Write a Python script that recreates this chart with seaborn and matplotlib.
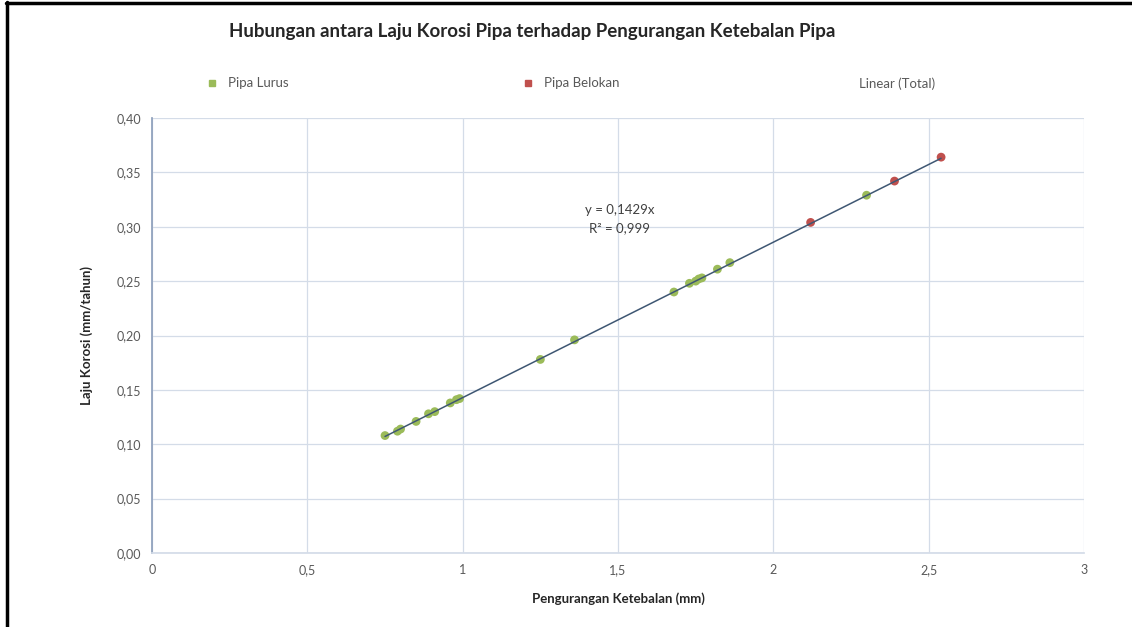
import numpy as np
import pandas as pd
import matplotlib
matplotlib.use('Agg')
import matplotlib.pyplot as plt
import seaborn as sns
from matplotlib.lines import Line2D
from matplotlib.ticker import FuncFormatter, MultipleLocator

# ── Data ──────────────────────────────────────────────────────────────────────
lurus_x = [0.75, 0.79, 0.80, 0.85, 0.89, 0.91, 0.96, 0.98, 0.99,
           1.25, 1.36, 1.68, 1.73, 1.75, 1.76, 1.77, 1.82, 1.86, 2.30]
lurus_y = [0.108, 0.112, 0.114, 0.121, 0.128, 0.130, 0.138, 0.141, 0.142,
           0.178, 0.196, 0.240, 0.248, 0.250, 0.252, 0.253, 0.261, 0.267, 0.329]
belokan_x = [2.12, 2.39, 2.54]
belokan_y = [0.304, 0.342, 0.364]
SLOPE = 0.1429
R2 = 0.999

GREEN = '#9BBB59'
RED = '#C0504D'
TREND = '#3F5773'
GRID = '#D4DCE8'

df = pd.DataFrame({
    'x': lurus_x + belokan_x,
    'y': lurus_y + belokan_y,
    'jenis': ['Pipa Lurus'] * len(lurus_x) + ['Pipa Belokan'] * len(belokan_x),
})

sns.set_theme(style='white')
plt.rcParams['font.family'] = ['Lato', 'DejaVu Sans']

fig = plt.figure(figsize=(11.32, 6.27), dpi=100)
ax = fig.add_axes([0.1343, 0.118, 0.8233, 0.6938])

# trendline through origin over the data range
xs = np.array([df['x'].min(), df['x'].max()])
ax.plot(xs, SLOPE * xs, color=TREND, lw=1.1, zorder=3)

sns.scatterplot(data=df, x='x', y='y', hue='jenis',
                palette={'Pipa Lurus': GREEN, 'Pipa Belokan': RED},
                s=40, edgecolor='none', legend=False, ax=ax, zorder=2)

ax.set_xlim(0, 3)
ax.set_ylim(0, 0.40)
ax.xaxis.set_major_locator(MultipleLocator(0.5))
ax.yaxis.set_major_locator(MultipleLocator(0.05))
ax.xaxis.set_major_formatter(FuncFormatter(lambda v, p: f'{v:g}'.replace('.', ',')))
ax.yaxis.set_major_formatter(FuncFormatter(lambda v, p: f'{v:.2f}'.replace('.', ',')))
ax.grid(True, color=GRID, lw=0.9)
ax.tick_params(axis='both', labelsize=9, colors='#595959', length=0, pad=8)

for side in ['top', 'right']:
    ax.spines[side].set_visible(False)
ax.spines['left'].set_color('#8EA0BC')
ax.spines['bottom'].set_color(GRID)

ax.set_xlabel('Pengurangan Ketebalan (mm)', fontsize=9.5, fontweight='bold',
              color='#262626', labelpad=12)
ax.set_ylabel('Laju Korosi (mm/tahun)', fontsize=9.5, fontweight='bold',
              color='#262626', labelpad=17)

ax.text(1.505, 0.315, f'y = {SLOPE:.4f}x'.replace('.', ','), ha='center',
        va='center', fontsize=9.5, color='#404040')
ax.text(1.505, 0.299, f'R² = {R2:.3f}'.replace('.', ','), ha='center',
        va='center', fontsize=9.5, color='#404040')

fig.text(0.470, 0.950, 'Hubungan antara Laju Korosi Pipa terhadap Pengurangan Ketebalan Pipa',
         ha='center', va='center', fontsize=13.5, fontweight='bold', color='#262626')

# legend entries placed one by one along the top
legend_items = [
    (Line2D([], [], ls='none', marker='s', ms=5, color=GREEN, label='Pipa Lurus'), 0.183),
    (Line2D([], [], ls='none', marker='s', ms=5, color=RED, label='Pipa Belokan'), 0.462),
    (Line2D([], [], ls='none', marker='', label='Linear (Total)'), 0.740),
]
for handle, xpos in legend_items:
    fig.legend(handles=[handle], loc='center left', bbox_to_anchor=(xpos, 0.867),
               frameon=False, fontsize=9.5, handlelength=0.8, handletextpad=0.8,
               labelcolor='#595959', borderaxespad=0, borderpad=0)

# outer frame lines (left and top)
fig.add_artist(Line2D([0.0062, 0.0062], [0, 0.997], color='black', lw=2.5))
fig.add_artist(Line2D([0.005, 1.0], [0.995, 0.995], color='black', lw=2.5))

fig.savefig('out.png', dpi=100)
